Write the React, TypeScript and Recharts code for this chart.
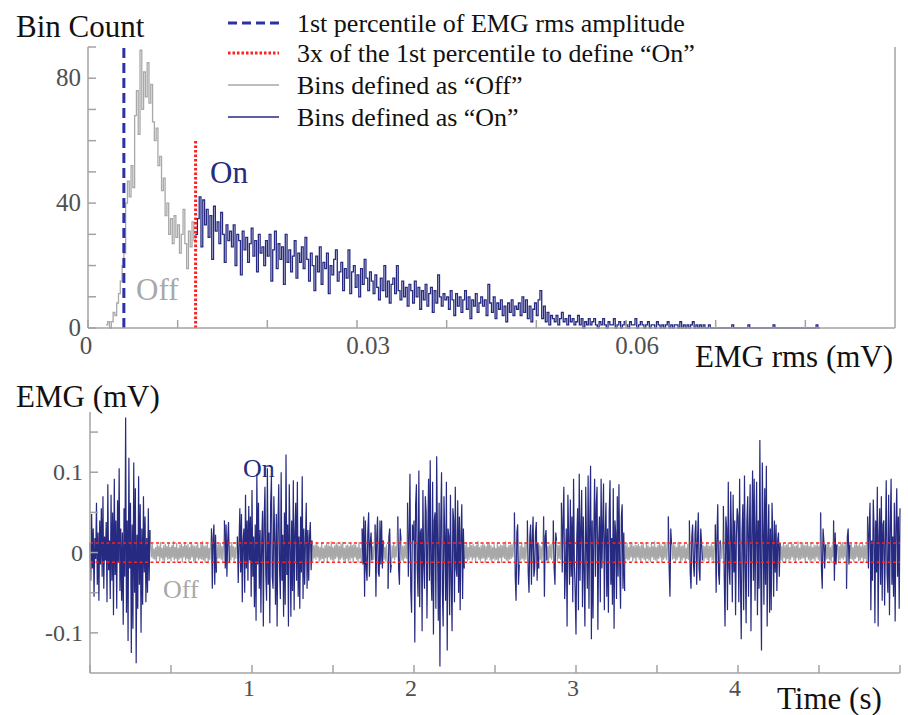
import React from "react";
import { LineChart, Line, XAxis, YAxis, ReferenceLine } from "recharts";

// ---- histogram of EMG rms (mV) ----
const HIST_BIN = 0.0002;
const OFF_START = 0.002;
const ON_START = 0.012;
const P1_AMPLITUDE = 0.004; // 1st percentile of EMG rms amplitude
const ON_THRESHOLD = 0.012; // 3x of the 1st percentile
const THRESHOLD_MARK_TOP = 60;

const OFF_COUNTS = [
  1, 2, 0, 2, 5, 4, 8, 11, 15, 20,
  24, 40, 47, 42, 52, 45, 68, 76, 62, 89,
  70, 82, 74, 85, 72, 78, 66, 60, 64, 52,
  55, 44, 48, 36, 40, 30, 35, 27, 36, 29,
  33, 24, 30, 38, 27, 19, 31, 26, 34, 28,
];

const ON_COUNTS = [
  30, 35, 42, 26, 41, 33, 38, 29, 36, 22, 39, 31, 34, 27, 37, 30, 21, 33, 28, 31,
  26, 33, 20, 30, 28, 17, 31, 25, 29, 21, 27, 32, 23, 28, 18, 30, 24, 26, 20, 28,
  23, 30, 15, 25, 31, 19, 27, 22, 26, 14, 30, 21, 25, 18, 23, 28, 16, 24, 21, 26,
  19, 29, 22, 15, 24, 20, 12, 23, 18, 26, 14, 21, 19, 24, 11, 20, 17, 22, 25, 15,
  18, 21, 12, 19, 16, 25, 11, 18, 20, 13, 17, 10, 19, 14, 22, 16, 12, 18, 15, 11,
  17, 13, 9, 16, 12, 20, 10, 15, 8, 14, 16, 11, 20, 12, 9, 15, 10, 13, 7, 14,
  12, 8, 15, 10, 13, 6, 12, 9, 14, 7, 11, 13, 5, 12, 8, 17, 10, 7, 11, 9,
  10, 6, 12, 9, 4, 11, 7, 10, 5, 9, 12, 6, 10, 3, 9, 7, 11, 5, 8, 10,
  7, 9, 4, 14, 8, 5, 10, 3, 8, 6, 9, 4, 7, 2, 8, 5, 9, 4, 7, 6,
  8, 4, 10, 5, 9, 3, 7, 2, 6, 8, 4, 9, 12, 3, 7, 2, 5, 1, 4, 3,
  2, 4, 1, 3, 5, 2, 3, 1, 4, 2, 3, 1, 2, 4, 1, 3, 0, 2, 1, 3,
  1, 2, 3, 1, 0, 2, 1, 3, 1, 0, 2, 1, 1, 3, 0, 1, 2, 0, 1, 2,
  1, 0, 2, 1, 1, 3, 0, 1, 2, 1, 0, 1, 2, 0, 1, 1, 0, 2, 1, 0,
  1, 0, 1, 2, 0, 1, 0, 1, 1, 0, 2, 0, 1, 0, 1, 0, 1, 2, 0, 1,
  0, 1, 0, 1, 0, 0, 1, 0, 0, 0, 0, 0, 0, 0, 0, 0, 0, 0, 0, 1,
  0, 0, 0, 0, 0, 0, 0, 0, 1, 0, 0, 0, 0, 0, 0, 0, 0, 0, 0, 0,
  0, 0, 1, 0, 0, 0, 0, 0, 0, 0, 0, 0, 0, 0, 0, 0, 0, 0, 0, 0,
  0, 0, 0, 0, 0, 0, 1, 0,
];

const HIST_X_TICKS = [0, 0.01, 0.02, 0.03, 0.04, 0.05, 0.06, 0.07, 0.08];
const HIST_X_LABELS = [0, 0.03, 0.06];
const HIST_Y_TICKS = [0, 10, 20, 30, 40, 50, 60, 70, 80, 90];
const HIST_Y_LABELS = [0, 40, 80];

// ---- raw EMG trace, one sample every 5 ms, in microvolts (one row = 0.1 s) ----
const EMG_DT = 0.005;
const EMG_UV = [
  12, -35, 48, -20, 30, -55, 18, -8, 62, -40, 25, -60, 40, -15, 55, -30, 70, -45, 20, -10,
  38, -62, 85, -22, 15, -58, 72, -35, 50, -78, 92, -28, 40, -70, 65, -12, 105, -48, 30, -60,
  25, -90, 55, -30, 168, -75, 40, -110, 118, -20, 62, -125, 35, -95, 112, -50, 80, -138, 22, -70,
  95, -40, 60, -100, 30, -65, 70, -25, 45, -62, 18, -50, 55, -35, 28, 9, -6, 11, -8, 5,
  -9, 7, -12, 10, -5, 8, -11, 13, -7, 6, -10, 9, -13, 11, -6, 8, -9, 12, -8, 7,
  -11, 9, -6, 14, -10, 7, -8, 12, -13, 6, -9, 10, -7, 11, -12, 8, -6, 13, -10, 9,
  -8, 11, -12, 7, -9, 13, -6, 10, -11, 8, -13, 9, -7, 12, -10, 6, -8, 11, -9, 14,
  -10, 8, -12, 9, -7, 11, -13, 6, -9, 12, 30, -45, 18, 35, -40, 22, -25, 10, -8, 11,
  -7, 12, -9, 8, -11, 10, 40, -20, 35, -30, 15, 38, -12, 9, -10, 13, -6, 8, -11, 7,
  -8, 10, 20, -38, 12, 55, -25, 48, -62, 15, 30, -50, 72, -20, 40, -35, 58, -10, 45, -55,
  78, -30, 20, -68, 35, -85, 98, -15, 62, -45, 28, -75, 15, 52, -92, 40, 82, -25, -60, 105,
  -40, 25, -88, 60, 95, -30, -45, 70, 18, -65, 48, -92, 33, 85, -20, -58, 100, -35, 22, -80,
  50, -65, 122, -28, 35, -92, 85, 12, -80, 40, -48, 90, -72, 25, 62, -35, 88, -55, 20, -70,
  45, -25, 95, -58, 30, -40, 15, 62, -45, 28, -35, 20, 38, -22, 15, -12, 9, -7, 10, -9,
  12, -6, 8, -11, 7, -10, 13, -8, 6, -12, 9, -7, 11, -13, 10, -6, 8, -9, 14, -10,
  7, -11, 9, -8, 12, -6, 10, -13, 8, -9, 11, -7, 13, -10, 6, -12, 9, -8, 10, -11,
  8, -10, 12, -7, 9, -13, 11, -6, 10, -9, 7, -12, 13, -8, 6, -11, 30, -15, 45, -55,
  40, -20, -35, 25, 50, -30, 12, 25, -10, 8, -9, 11, 35, -55, 20, 45, -25, -30, 40, -15,
  40, -20, 15, -9, 7, -11, 10, -8, -45, 20, 30, -25, -15, 9, -7, 12, -10, 8, -6, 11,
  45, -20, -40, 30, 15, -10, 8, -12, 9, -7, 11, -8, 62, -30, 20, 98, -45, -75, 35, 15,
  40, -112, 60, 85, -20, -55, 102, -68, 25, 30, -98, 78, -15, -45, 70, 50, -82, 20, 92, -35,
  115, -25, -60, 88, -102, 40, 50, -70, 120, 15, -85, 62, -142, 35, 100, -48, -92, 70, 20, -60,
  88, -122, 30, 20, -78, 72, -35, -98, 55, 40, -62, 82, -20, -30, 65, -50, 45, -72, 25, 60,
  -58, 30, -20, 10, -8, 12, -11, 7, -9, 13, -6, 9, -10, 11, -7, 8, -12, 10, -6, 14,
  -9, 7, -11, 9, -8, 12, -7, 10, -13, 8, -9, 11, -6, 13, -10, 9, -12, 7, -8, 11,
  -10, 6, -9, 12, -11, 8, -7, 10, -13, 9, -6, 11, -8, 14, -10, 7, -12, 9, -9, 10,
  -8, 11, -6, 9, 50, -30, -60, 25, 35, -40, -15, 9, -10, 12, -8, 7, -11, 13, -9, 8,
  40, -25, -50, 20, 35, -40, 15, 45, -30, -20, 25, 38, -35, 12, -20, 10, -9, 8, -12, 11,
  45, -55, 20, 28, -10, 8, -12, 10, -7, 11, -9, 13, 40, -20, -40, 25, 15, -11, 9, -8,
  10, -9, 62, -25, 40, 82, -58, -20, 30, -92, 72, 15, -40, 66, -30, 45, -62, 92, -15, -50,
  -102, 20, 55, -72, 98, -35, 30, 78, -68, 45, -25, -92, 82, 10, -45, 96, -70, 40, 108, -108,
  40, -82, 25, 92, -30, 60, 82, -96, 15, 45, -62, 92, -20, 35, 86, -72, 20, 62, -55, 30,
  -75, 50, 90, -40, 18, -65, 80, -95, 40, 25, -58, 70, -30, 85, -20, -70, 45, 60, -45, 25,
  -48, 10, -8, 12, -10, 7, -9, 11, -6, 13, -11, 8, -7, 10, -12, 9, -6, 11, -9, 8,
  -13, 10, -7, 12, -9, 6, -11, 13, -8, 9, -10, 7, -12, 11, -6, 8, -9, 14, -10, 7,
  -11, 9, -8, 12, -6, 10, -13, 8, -9, 11, -7, 13, -10, 6, 45, -20, -55, 30, 10, -9,
  12, -8, 10, -11, 7, -9, 13, -6, 11, -12, 8, -10, 9, -7, 12, -13, 6, -8, 11, -9,
  40, -25, -45, 20, 35, -15, -30, 25, 40, -40, 15, 50, -20, -35, 30, 12, -10, 9, -11, 8,
  -7, 12, -9, 10, -13, 8, -6, 11, -10, 9, -12, 7, 35, -50, 20, 60, -25, -40, 15, 10,
  -8, 11, 58, -30, -92, 45, 30, -72, 88, -20, -40, 76, 15, -62, 72, -25, 40, -78, 20, 55,
  45, -62, 92, -30, -108, 25, 60, -72, 96, -15, -88, 40, 70, -55, 30, 85, -98, 20, 102, -35,
  92, -60, 25, 88, -78, 40, -45, 140, -20, -122, 112, 30, -65, 80, -40, 108, -92, 15, 60, -75,
  30, -72, 62, 20, -55, 40, -25, 35, -48, 15, 25, -30, 12, -10, 8, -12, 11, -7, 9, -13,
  10, -8, 12, -11, 7, -9, 13, -6, 11, -10, 8, -12, 9, -7, 14, -10, 6, -9, 11, -8,
  12, -7, 9, -13, 10, -6, 11, -9, 8, -12, 13, -10, 7, -8, 10, -11, 9, -6, 12, -9,
  8, -11, 50, -20, -45, 30, 15, -20, 10, -9, 11, -8, 12, -10, 7, -13, 9, -6, 40, -35,
  25, -15, 10, 9, -12, 8, -10, 11, -7, 13, -9, 10, -6, 12, -45, 20, 30, -15, 10, -8,
  11, -9, 7, -12, 10, -8, 13, -6, 9, -11, 12, -10, 8, -7, 11, -13, 9, -8, 10, -12,
  45, -20, 30, 62, -72, 15, -35, 66, 30, -88, 40, -25, 82, -92, 20, 55, -40, 70, -60, 35,
  40, -66, 15, 90, -25, -50, 72, -78, 30, 92, -40, 20, -55, 62, -86, 35, 80, -30, 45, -70,
  55,
];

// time spans (s) whose rms is above the "On" threshold
const ON_SEGMENTS = [
  [0.0, 0.37], [0.75, 0.78], [0.83, 0.86], [0.91, 1.37],
  [1.68, 1.74], [1.76, 1.81], [1.84, 1.86], [1.9, 1.92], [1.96, 2.31],
  [2.62, 2.65], [2.7, 2.77], [2.8, 2.82], [2.86, 2.88], [2.91, 3.3],
  [3.57, 3.59], [3.7, 3.78], [3.86, 3.89], [3.91, 4.26],
  [4.51, 4.54], [4.59, 4.61], [4.67, 4.69], [4.8, 5.0],
];

const EMG_X_TICKS = [0, 0.5, 1, 1.5, 2, 2.5, 3, 3.5, 4, 4.5, 5];
const EMG_X_LABELS = [1, 2, 3, 4];
const EMG_Y_TICKS = [-0.1, -0.05, 0, 0.05, 0.1, 0.15];
const EMG_Y_LABELS = [-0.1, 0, 0.1];

const FONT = "'Liberation Serif', 'Times New Roman', serif";
const NAVY = "#262a80";
const GREY = "#a8a8a8";
const BLUE = "#2c31a3";
const RED = "#ff1f1f";
const AXIS = "#a3a3a3";
const TICK_TEXT = "#505050";

const toBins = (counts: number[], start: number) => {
  const rows = counts.map((c, i) => ({ x: start + i * HIST_BIN, y: c }));
  rows.push({ x: start + counts.length * HIST_BIN, y: counts[counts.length - 1] });
  return rows;
};
const offBins = toBins(OFF_COUNTS, OFF_START);
const onBins = toBins(ON_COUNTS, ON_START);
offBins[offBins.length - 1].y = ON_COUNTS[0];

const isOn = (t: number) => ON_SEGMENTS.some(([a, b]) => t >= a - 1e-6 && t <= b + 1e-6);
// grey keeps the samples next to an "Off" stretch, navy the ones inside an "On" stretch
const emgOff = EMG_UV.map((uv, i) => {
  const t = i * EMG_DT;
  const keep = !isOn(t) || !isOn(t - EMG_DT) || !isOn(t + EMG_DT);
  return { t, v: keep ? uv / 1000 : null };
});
const emgOn = EMG_UV.map((uv, i) => {
  const t = i * EMG_DT;
  return { t, v: isOn(t) ? uv / 1000 : null };
});

const hasLabel = (list: number[], v: number) => list.some((l) => Math.abs(l - v) < 1e-9);

const leftTick = (labels: number[], fontSize: number) => (props: any) => {
  const { x, y, payload } = props;
  return (
    <g>
      <line x1={x} y1={y} x2={x + 8} y2={y} stroke={AXIS} strokeWidth={1.5} />
      {hasLabel(labels, payload.value) && (
        <text x={x - 7} y={y + 8} textAnchor="end" fontSize={fontSize} fill={TICK_TEXT} fontFamily={FONT}>
          {payload.value}
        </text>
      )}
    </g>
  );
};

const rightTick = (props: any) => {
  const { x, y } = props;
  return <line x1={x} y1={y} x2={x - 8} y2={y} stroke={AXIS} strokeWidth={1.5} />;
};

const bottomTick = (labels: number[], fontSize: number, drop: number, shift: (v: number) => number) => (props: any) => {
  const { x, y, payload } = props;
  return (
    <g>
      <line x1={x} y1={y} x2={x} y2={y - 8} stroke={AXIS} strokeWidth={1.5} />
      {hasLabel(labels, payload.value) && (
        <text x={x + shift(payload.value)} y={y + drop} textAnchor="middle" fontSize={fontSize} fill={TICK_TEXT} fontFamily={FONT}>
          {payload.value}
        </text>
      )}
    </g>
  );
};

const Legend = () => (
  <g fontFamily={FONT} fontSize={26} fill="#111">
    <line x1={228} y1={23} x2={279} y2={23} stroke={BLUE} strokeWidth={3} strokeDasharray="9 5" />
    <text x={297} y={32}>1st percentile of EMG rms amplitude</text>
    <line x1={228} y1={53} x2={279} y2={53} stroke={RED} strokeWidth={3} strokeDasharray="2.5 2" />
    <text x={297} y={62}>3x of the 1st percentile to define “On”</text>
    <line x1={228} y1={85} x2={279} y2={85} stroke={GREY} strokeWidth={1.5} />
    <text x={297} y={94}>Bins defined as “Off”</text>
    <line x1={228} y1={117} x2={279} y2={117} stroke={NAVY} strokeWidth={1.5} />
    <text x={297} y={126}>Bins defined as “On”</text>
  </g>
);

export default function App() {
  return (
    <div style={{ position: "absolute", left: 0, top: 0, width: 908, height: 715, background: "#fff" }}>
      <div style={{ position: "absolute", left: 0, top: 0 }}>
        <LineChart width={908} height={370} margin={{ top: 47, right: 12, bottom: 41, left: 87 }}>
          <XAxis
            type="number"
            dataKey="x"
            domain={[0, 0.09]}
            ticks={HIST_X_TICKS}
            interval={0}
            height={1}
            tickSize={0}
            tickMargin={0}
            tickLine={false}
            axisLine={{ stroke: AXIS, strokeWidth: 1.5 }}
            tick={bottomTick(HIST_X_LABELS, 25, 26, (v) => (v === 0 ? -2 : 11))}
          />
          <YAxis
            type="number"
            domain={[0, 90]}
            ticks={HIST_Y_TICKS}
            interval={0}
            width={1}
            tickSize={0}
            tickMargin={0}
            tickLine={false}
            axisLine={{ stroke: AXIS, strokeWidth: 1.5 }}
            tick={leftTick(HIST_Y_LABELS, 25)}
          />
          <YAxis
            yAxisId="r"
            orientation="right"
            type="number"
            domain={[0, 90]}
            ticks={HIST_Y_TICKS}
            interval={0}
            width={1}
            tickSize={0}
            tickMargin={0}
            tickLine={false}
            axisLine={{ stroke: AXIS, strokeWidth: 1.5 }}
            tick={rightTick}
          />
          <Line data={offBins} dataKey="y" type="stepAfter" stroke={GREY} strokeWidth={1.3} dot={false} isAnimationActive={false} />
          <Line data={onBins} dataKey="y" type="stepAfter" stroke={NAVY} strokeWidth={1.3} dot={false} isAnimationActive={false} />
          <ReferenceLine x={P1_AMPLITUDE} stroke={BLUE} strokeWidth={3} strokeDasharray="10 5" />
          <ReferenceLine
            segment={[{ x: ON_THRESHOLD, y: 0 }, { x: ON_THRESHOLD, y: THRESHOLD_MARK_TOP }]}
            stroke={RED}
            strokeWidth={3}
            strokeDasharray="2.5 2"
          />
        </LineChart>
      </div>
      <div style={{ position: "absolute", left: 0, top: 380 }}>
        <LineChart width={908} height={335} margin={{ top: 32, right: 8, bottom: 41, left: 89 }}>
          <XAxis
            type="number"
            dataKey="t"
            domain={[0, 5]}
            ticks={EMG_X_TICKS}
            interval={0}
            height={1}
            tickSize={0}
            tickMargin={0}
            tickLine={false}
            axisLine={{ stroke: AXIS, strokeWidth: 1.5 }}
            tick={bottomTick(EMG_X_LABELS, 24, 23, () => -3)}
          />
          <YAxis
            type="number"
            domain={[-0.15, 0.175]}
            ticks={EMG_Y_TICKS}
            interval={0}
            width={1}
            tickSize={0}
            tickMargin={0}
            tickLine={false}
            allowDataOverflow
            axisLine={{ stroke: AXIS, strokeWidth: 1.5 }}
            tick={leftTick(EMG_Y_LABELS, 24)}
          />
          <Line data={emgOff} dataKey="v" stroke={GREY} strokeWidth={1.2} dot={false} isAnimationActive={false} />
          <Line data={emgOn} dataKey="v" stroke={NAVY} strokeWidth={1.2} dot={false} isAnimationActive={false} />
          <ReferenceLine y={ON_THRESHOLD} stroke={RED} strokeWidth={1.5} strokeDasharray="3 2.5" />
          <ReferenceLine y={-ON_THRESHOLD} stroke={RED} strokeWidth={1.5} strokeDasharray="3 2.5" />
        </LineChart>
      </div>
      <svg width={908} height={715} style={{ position: "absolute", left: 0, top: 0, pointerEvents: "none" }}>
        <Legend />
        <g fontFamily={FONT} fontSize={31} fill="#111">
          <text x={16} y={37}>Bin Count</text>
          <text x={695} y={367}>EMG rms (mV)</text>
          <text x={16} y={407}>EMG (mV)</text>
          <text x={777} y={709}>Time (s)</text>
        </g>
        <text x={210} y={183} fontFamily={FONT} fontSize={31} fill={NAVY}>On</text>
        <text x={136} y={300} fontFamily={FONT} fontSize={31} fill={GREY}>Off</text>
        <text x={243} y={477} fontFamily={FONT} fontSize={26} fill={NAVY}>On</text>
        <text x={163} y={598} fontFamily={FONT} fontSize={26} fill={GREY}>Off</text>
      </svg>
    </div>
  );
}
